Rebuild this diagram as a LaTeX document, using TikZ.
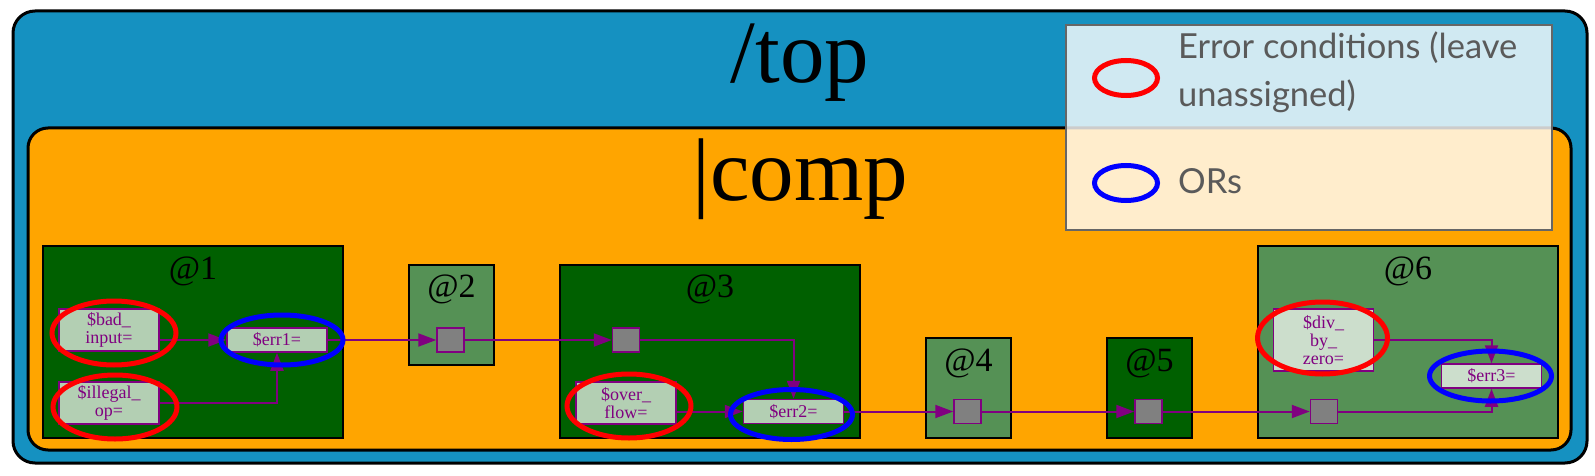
\documentclass[tikz,border=0pt]{standalone}
\usepackage{fontspec}
\setmainfont{Liberation Serif}
\newfontfamily\legendfont{Lato}
\usetikzlibrary{positioning,calc,arrows.meta}
\definecolor{TopBlue}{RGB}{21,145,193}
\definecolor{CompOrange}{RGB}{255,165,0}
\definecolor{GrpDark}{RGB}{0,96,0}
\definecolor{GrpLight}{RGB}{85,145,85}
\definecolor{WirePurple}{RGB}{128,0,128}
\definecolor{WireGrey}{RGB}{128,128,128}
\definecolor{LegendGrey}{RGB}{90,90,90}
\definecolor{LegendEdge}{RGB}{102,102,102}
\tikzset{
    topbox/.style={draw=black, fill=TopBlue, line width=3pt, rounded corners=22pt,
                   minimum width=1574pt, minimum height=452pt},
    compbox/.style={draw=black, fill=CompOrange, line width=3pt, rounded corners=20pt,
                    minimum width=1543pt, minimum height=322pt},
    bigtitle/.style={font=\fontsize{89}{100}\selectfont, inner sep=0pt, anchor=base},
    grpdark/.style={draw=black, fill=GrpDark, line width=2pt},
    grplight/.style={draw=black, fill=GrpLight, line width=2pt},
    grptitle/.style={font=\fontsize{34}{36}\selectfont, inner sep=0pt},
    portbox/.style={draw=WirePurple, fill=white, fill opacity=0.7, text opacity=1,
                    text=WirePurple, line width=1.5pt, inner sep=0pt, align=center,
                    minimum width=100pt, font=\fontsize{18}{18}\selectfont},
    wirebox/.style={draw=WirePurple, fill=WireGrey, line width=1.5pt, inner sep=0pt,
                    minimum width=27pt, minimum height=24pt},
    legendbox/.style={draw=LegendEdge, fill=white, fill opacity=0.8, line width=1.5pt,
                      minimum width=486pt, minimum height=205pt},
    legendtext/.style={text=LegendGrey, font=\legendfont\fontsize{34.5}{48}\selectfont,
                       inner sep=0pt, anchor=base west},
    % Rings
    errring/.style={draw=red, line width=5pt},
    orring/.style={draw=blue, line width=5pt},
    % Arrow styles
    wire/.style={draw=WirePurple, line width=2pt, -{Triangle[length=18pt, width=13pt]}}
}

\begin{document}
\begin{tikzpicture}[x=1pt, y=-1pt]
    \useasboundingbox (0,0) rectangle (1595,476);

    % Hierarchy boxes
    \node[topbox] (top) at (800,237) {};
    \node[compbox] (comp) at (799.5,289) {};
    \node[legendbox] (legend) at (1309,127.5) {};

    \node[bigtitle] (toptitle) at (800,83) {/top};
    \node[bigtitle] (comptitle) at (800,200) {|comp};

    % Legend
    \draw[errring] (1126,78) ellipse [x radius=31.5pt, y radius=17.5pt];
    \draw[orring] (1126,183) ellipse [x radius=31.5pt, y radius=17.5pt];
    \node[legendtext] (lgerr1) at (1178,59) {Error conditions (leave};
    \node[legendtext] (lgerr2) at (1178,107) {unassigned)};
    \node[legendtext] (lgor) at (1178,193) {ORs};

    % Groups
    \node[grpdark, minimum width=300pt, minimum height=192pt] (g1) at (193,342) {};
    \node[grplight, minimum width=85pt, minimum height=100pt] (g2) at (451.5,315) {};
    \node[grpdark, minimum width=300pt, minimum height=173pt] (g3) at (710,351.5) {};
    \node[grplight, minimum width=85pt, minimum height=100pt] (g4) at (968.5,388) {};
    \node[grpdark, minimum width=85pt, minimum height=100pt] (g5) at (1149.5,388) {};
    \node[grplight, minimum width=300pt, minimum height=192pt] (g6) at (1408,342) {};

    \node[grptitle] at ([yshift=-26pt]g1.north) {@1};
    \node[grptitle] at ([yshift=-25pt]g2.north) {@2};
    \node[grptitle] at ([yshift=-25pt]g3.north) {@3};
    \node[grptitle] at ([yshift=-26pt]g4.north) {@4};
    \node[grptitle] at ([yshift=-26pt]g5.north) {@5};
    \node[grptitle] at ([yshift=-26pt]g6.north) {@6};

    % Ports
    \node[portbox, minimum height=42pt] (bad) at (109,330) {\$bad\_\\input=};
    \node[portbox, minimum height=42pt] (illegal) at (109,403) {\$illegal\_\\op=};
    \node[portbox, minimum height=24pt] (err1) at (277,340) {\$err1=};
    \node[wirebox] (sq2) at (450.5,340) {};
    \node[wirebox] (sq3) at (626,340) {};
    \node[portbox, minimum height=42pt] (over) at (626,403) {\$over\_\\flow=};
    \node[portbox, minimum height=24pt] (err2) at (793.5,411.5) {\$err2=};
    \node[wirebox] (sq4) at (967.5,411.5) {};
    \node[wirebox] (sq5) at (1148.5,411.5) {};
    \node[wirebox] (sq6) at (1324,411.5) {};
    \node[portbox, minimum height=62pt] (div) at (1323.5,340) {\$div\_\\by\_\\zero=};
    \node[portbox, minimum height=24pt] (err3) at (1491.5,376) {\$err3=};

    % Connections
    \draw[wire] (bad.east |- err1.west) -- (err1.west);
    \draw[wire] (illegal.east) -| (err1.south);
    \draw[wire] (err1.east) -- (sq2.west);
    \draw[wire] (sq2.east) -- (sq3.west);
    \draw[wire] (sq3.east) -| (err2.north);
    \draw[wire] (over.east |- err2.west) -- (err2.west);
    \draw[wire] (err2.east) -- (sq4.west);
    \draw[wire] (sq4.east) -- (sq5.west);
    \draw[wire] (sq5.east) -- (sq6.west);
    \draw[wire] (div.east) -| (err3.north);
    \draw[wire] (sq6.east) -| (err3.south);

    % Highlight rings
    \draw[errring] ($(bad)+(5,3)$) ellipse [x radius=62pt, y radius=32pt];
    \draw[errring] ($(illegal)+(6,4)$) ellipse [x radius=62pt, y radius=32pt];
    \draw[errring] ($(over)+(3,3)$) ellipse [x radius=62pt, y radius=32pt];
    \draw[errring] ($(div)+(-1,-2)$) ellipse [x radius=65pt, y radius=36pt];
    \draw[orring] ($(err1)+(5,0)$) ellipse [x radius=61pt, y radius=25pt];
    \draw[orring] ($(err2)+(-2,3)$) ellipse [x radius=61pt, y radius=25pt];
    \draw[orring] ($(err3)+(-1,0)$) ellipse [x radius=61pt, y radius=25pt];
\end{tikzpicture}
\end{document}
